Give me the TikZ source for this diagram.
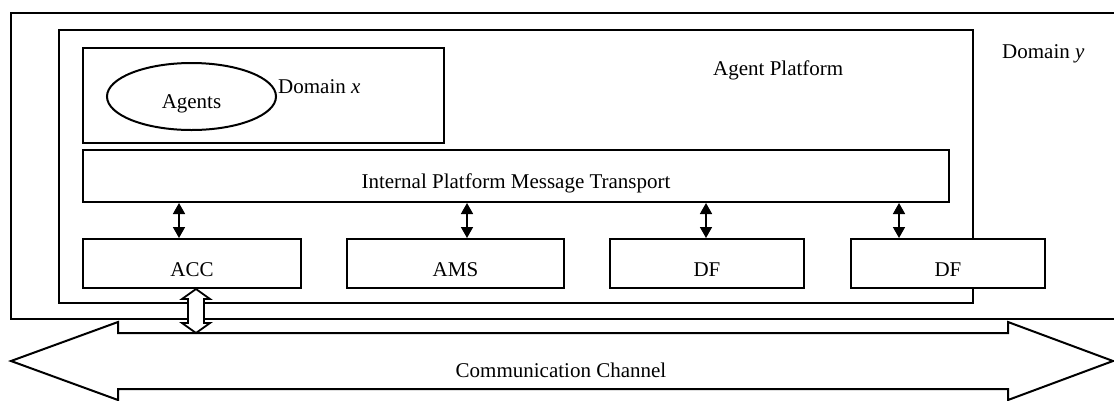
\documentclass[tikz,border=0pt]{standalone}
\usepackage{fontspec}
\setmainfont{Liberation Serif}
\usetikzlibrary{arrows.meta,shapes.geometric}
\begin{document}
\begin{tikzpicture}[x=1pt,y=-1pt,
  frame/.style={draw,line width=2pt,rectangle,inner sep=0pt},
  box/.style={draw,fill=white,line width=2pt,rectangle,inner sep=0pt,
    font=\fontsize{21}{25}\selectfont,text height=25pt,text depth=0pt},
  lbl/.style={font=\fontsize{21}{25}\selectfont,inner sep=0pt},
  link/.style={line width=1.6pt,{Triangle[length=11pt,width=12pt]}-{Triangle[length=11pt,width=12pt]}},
  hollow/.style={draw,fill=white,line width=1.8pt,line join=miter}]
\clip (0,0) rectangle (1114,400);
% Domain y
\node[frame,minimum width=1130pt,minimum height=306pt] (domy) at (576,166) {};
% Agent platform
\node[frame,minimum width=914pt,minimum height=273pt] (ap) at (516,166.5) {};
% Communication channel (block arrow)
\draw[hollow,line width=2pt] (11,361) -- (118,322) -- (118,333) -- (1008,333) -- (1008,322)
  -- (1113,361) -- (1008,400) -- (1008,389) -- (118,389) -- (118,400) -- cycle;
\node[lbl,anchor=base] (cc) at (561,377) {Communication Channel};
% Domain x
\node[frame,minimum width=361pt,minimum height=95pt] (domx) at (263.5,95.5) {};
\node[draw,ellipse,line width=2pt,inner sep=0pt,minimum width=169pt,minimum height=67pt,
  font=\fontsize{21}{25}\selectfont,text height=23pt,text depth=0pt] (agents) at (191.5,96.5) {Agents};
\node[lbl,anchor=base west] (domxl) at (278,93) {Domain \textit{x}};
\node[lbl,anchor=base west] (apl) at (713,75) {Agent Platform};
\node[lbl,anchor=base west] (domyl) at (1002,58) {Domain \textit{y}};
% Internal transport
\node[box,minimum width=866pt,minimum height=52pt,text height=24pt] (ipmt) at (516,176) {Internal Platform Message Transport};
% Bottom boxes
\node[box,minimum width=218pt,minimum height=49pt] (acc) at (192,263.5) {ACC};
\node[box,minimum width=217pt,minimum height=49pt] (ams) at (455.5,263.5) {AMS};
\node[box,minimum width=194pt,minimum height=49pt] (df1) at (707,263.5) {DF};
\node[box,minimum width=194pt,minimum height=49pt] (df2) at (948,263.5) {DF};
% Links
\draw[link] (ipmt.south -| 179,0) -- (acc.north -| 179,0);
\draw[link] (ipmt.south -| 467,0) -- (ams.north -| 467,0);
\draw[link] (ipmt.south -| 706,0) -- (df1.north -| 706,0);
\draw[link] (ipmt.south -| 899,0) -- (df2.north -| 899,0);
% Hollow double arrow ACC <-> channel
\draw[hollow] (acc.south -| 196,0) -- (210,299) -- (204,299) -- (204,323) -- (210,323)
  -- (196,333) -- (182,323) -- (188,323) -- (188,299) -- (182,299) -- cycle;
\end{tikzpicture}
\end{document}
